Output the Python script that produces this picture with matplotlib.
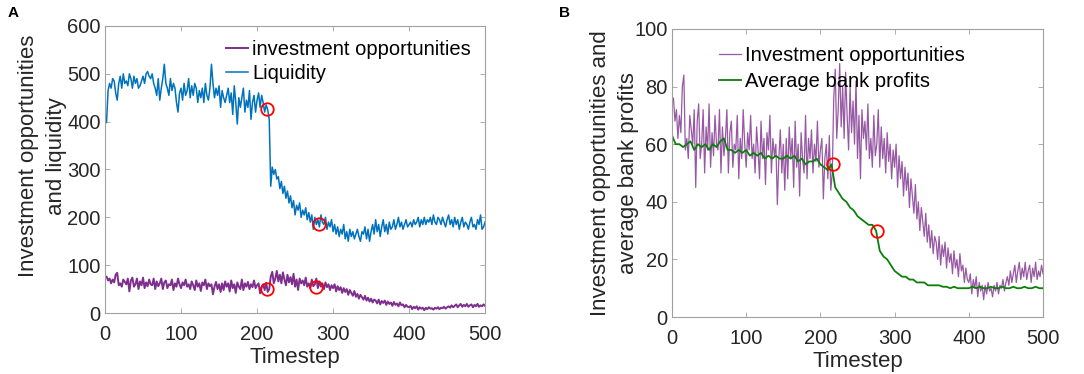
"""
Two-panel figure: investment opportunities vs liquidity (A) and
investment opportunities vs average bank profits (B).
"""
import numpy as np
import matplotlib
matplotlib.use("Agg")
import matplotlib.pyplot as plt

plt.rcParams["font.family"] = ["Liberation Sans", "DejaVu Sans"]

# ---- data ----
# noisy series sampled every 2 timesteps, smooth one every 5
TIMESTEP_FINE = list(range(0, 501, 2))
TIMESTEP = list(range(0, 501, 5))

LIQUIDITY = [
    395, 400, 465, 480, 470, 490, 485, 460, 445, 480,
    495, 470, 500, 480, 485, 475, 500, 490, 470, 495,
    480, 490, 470, 475, 485, 495, 480, 500, 505, 495,
    490, 500, 480, 470, 455, 490, 445, 470, 490, 520,
    480, 470, 455, 490, 465, 480, 470, 440, 420, 460,
    470, 445, 480, 455, 465, 490, 450, 475, 455, 480,
    470, 440, 465, 450, 470, 440, 480, 455, 445, 470,
    520, 480, 450, 470, 455, 475, 430, 465, 450, 440,
    455, 470, 440, 460, 415, 475, 440, 395, 450, 430,
    450, 470, 420, 445, 430, 465, 405, 440, 455, 420,
    445, 460, 430, 455, 440, 420, 435, 425, 405, 265,
    305, 290, 300, 280, 285, 260, 275, 250, 265, 240,
    255, 230, 245, 220, 235, 205, 225, 215, 230, 200,
    215, 205, 220, 195, 210, 190, 205, 175, 200, 185,
    195, 180, 205, 190, 185, 200, 175, 190, 180, 195,
    170, 185, 165, 180, 160, 175, 165, 185, 155, 170,
    150, 175, 160, 170, 155, 165, 175, 160, 150, 170,
    165, 180, 155, 175, 150, 170, 185, 165, 195, 170,
    185, 160, 180, 195, 170, 185, 165, 190, 175, 180,
    195, 175, 185, 200, 180, 190, 175, 185, 195, 180,
    185, 190, 180, 195, 185, 190, 200, 180, 195, 185,
    200, 185, 195, 190, 200, 185, 205, 190, 185, 200,
    195, 185, 200, 190, 180, 195, 205, 185, 195, 180,
    200, 185, 195, 175, 190, 200, 180, 190, 185, 175,
    190, 200, 180, 185, 175, 195, 185, 205, 175, 180,
    190,
]

INVEST_OPPS = [
    76, 76, 68, 72, 62, 70, 64, 80, 84, 58,
    62, 55, 70, 65, 60, 72, 45, 68, 74, 55,
    60, 72, 50, 66, 58, 74, 52, 64, 56, 70,
    60, 58, 72, 50, 66, 56, 62, 72, 50, 64,
    68, 52, 60, 58, 70, 48, 62, 55, 72, 60,
    52, 64, 58, 70, 55, 60, 50, 66, 58, 48,
    68, 55, 62, 46, 64, 58, 70, 50, 62, 56,
    60, 39, 55, 65, 50, 60, 44, 62, 48, 66,
    55, 62, 45, 68, 52, 60, 42, 64, 55, 50,
    70, 48, 62, 55, 65, 50, 60, 54, 68, 52,
    58, 62, 41, 55, 60, 48, 63, 44, 50, 76,
    86, 62, 72, 88, 66, 80, 62, 85, 70, 58,
    80, 64, 75, 60, 82, 55, 70, 48, 72, 62,
    68, 58, 74, 55, 62, 52, 70, 56, 60, 72,
    52, 66, 55, 62, 50, 64, 54, 60, 48, 58,
    52, 60, 45, 56, 48, 54, 42, 52, 44, 50,
    38, 48, 42, 36, 46, 34, 40, 30, 38, 33,
    28, 36, 26, 32, 24, 30, 22, 28, 26, 20,
    28, 18, 25, 21, 26, 17, 24, 19, 22, 15,
    23, 17, 20, 14, 22, 16, 18, 12, 17, 13,
    12, 15, 8, 13, 10, 14, 7, 12, 9, 11,
    6, 11, 8, 12, 9, 10, 7, 11, 9, 12,
    8, 11, 10, 13, 9, 12, 14, 11, 16, 12,
    15, 18, 12, 16, 19, 13, 17, 14, 19, 13,
    16, 18, 12, 17, 14, 19, 13, 16, 14, 18,
    15,
]

BANK_PROFITS = [
    63, 60, 60, 59, 60, 61, 58, 60, 59, 60,
    58, 60, 59, 61, 62, 58, 58, 57, 58, 57,
    58, 56, 57, 56, 57, 55, 56, 55, 56, 55,
    55, 56, 55, 56, 54, 55, 53, 54, 54, 55,
    53, 52, 51, 53, 45, 43, 41, 40, 38, 37,
    35, 34, 33, 32, 32, 30, 23, 21, 20, 18,
    16, 15, 14, 14, 13, 13, 12, 12, 12, 11,
    11, 11, 11, 10.5, 10.5, 10, 10.5, 10, 10, 10,
    10, 10.5, 10, 10.5, 10, 10, 10.5, 10, 10, 10.5,
    10, 10, 10.5, 10, 10, 10.5, 10, 10, 10.5, 10,
    10,
]

# red circles marking events (timestep, value)
CIRCLES_A = [(213, 426), (282, 187), (213, 51), (278, 55)]
CIRCLES_B = [(217, 53), (276, 30)]

BLUE   = "#0072BD"
PURPLE = "#7E2F8E"
GREEN  = "#0A7F0A"
FS     = 14.5   # ticks and legend
FS_LBL = 16     # axis labels

def style_axes(ax, ymax, ystep):
    ax.set_xlim(0, 500)
    ax.set_ylim(0, ymax)
    ax.set_xticks(np.arange(0, 501, 100))
    ax.set_yticks(np.arange(0, ymax + 1, ystep))
    ax.tick_params(direction="in", length=3.5, width=0.6, top=True, right=True,
                   labelsize=FS, colors="#a0a0a0", labelcolor="#262626")
    ax.tick_params(axis="x", pad=8.5)
    ax.tick_params(axis="y", pad=3)
    for sp in ax.spines.values():
        sp.set_color("#a0a0a0")
        sp.set_linewidth(0.8)
    ax.set_xlabel("Timestep", fontsize=FS_LBL, labelpad=2.5, color="#262626")

def circles(ax, pts):
    xs, ys = zip(*pts)
    ax.plot(xs, ys, "o", markersize=9, markerfacecolor="none",
            markeredgecolor="red", markeredgewidth=1.3, zorder=5)

fig = plt.figure(figsize=(10.84, 3.74), dpi=100)

# --- Panel A ---
ax_a = fig.add_axes([0.0969, 0.1631, 0.3506, 0.7674])
ax_a.plot(TIMESTEP_FINE, INVEST_OPPS, color=PURPLE, linewidth=1.4,
          label="investment opportunities")
ax_a.plot(TIMESTEP_FINE, LIQUIDITY, color=BLUE, linewidth=1.1, label="Liquidity")
circles(ax_a, CIRCLES_A)
style_axes(ax_a, 600, 100)
ax_a.set_ylabel("Investment opportunities\nand liquidity", fontsize=FS_LBL,
                va="center", ha="center", linespacing=1.45, color="#262626")
ax_a.yaxis.set_label_coords(-0.165, 0.547)
ax_a.legend(loc="upper right", frameon=False, fontsize=FS, handlelength=1.1,
            handletextpad=0.2, labelspacing=0.25, borderaxespad=0.3)
fig.text(0.007, 0.955, "A", fontsize=11, fontweight="bold")

# --- Panel B ---
ax_b = fig.add_axes([0.6199, 0.1524, 0.3423, 0.7701])
ax_b.plot(TIMESTEP_FINE, INVEST_OPPS, color=PURPLE, linewidth=0.9, alpha=0.8,
          label="Investment opportunities")
ax_b.plot(TIMESTEP, BANK_PROFITS, color=GREEN, linewidth=1.3,
          label="Average bank profits")
circles(ax_b, CIRCLES_B)
style_axes(ax_b, 100, 20)
ax_b.set_ylabel("Investment opportunities and\naverage bank profits", fontsize=FS_LBL,
                va="center", ha="center", linespacing=1.4, color="#262626")
ax_b.yaxis.set_label_coords(-0.155, 0.5)
ax_b.legend(loc="upper left", bbox_to_anchor=(0.088, 0.99), frameon=False,
            fontsize=FS, handlelength=1.1, handletextpad=0.2,
            labelspacing=0.35, borderaxespad=0.3)
fig.text(0.516, 0.955, "B", fontsize=11, fontweight="bold")

fig.savefig("out.png", dpi=100)
